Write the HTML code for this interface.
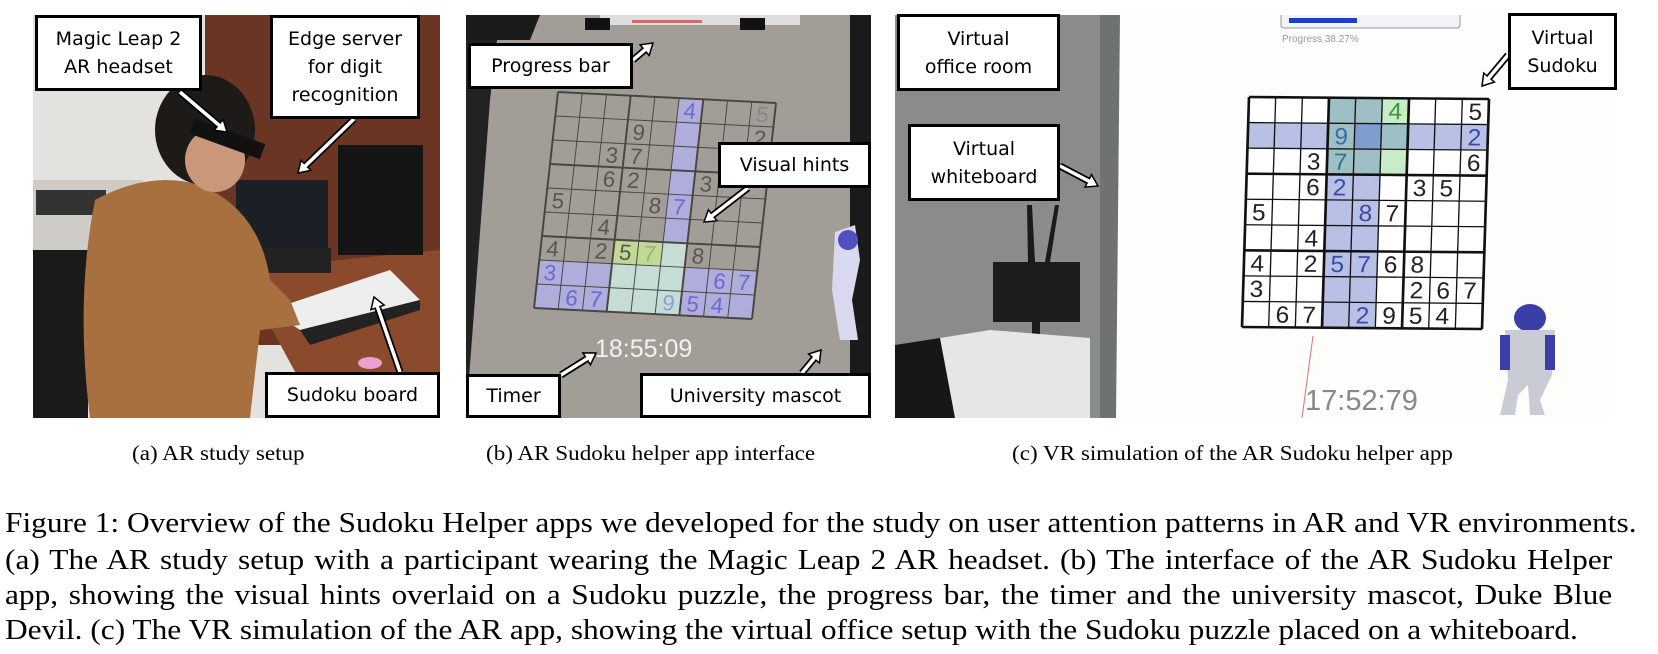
<!DOCTYPE html>
<html><head><meta charset="utf-8"><style>
html,body{margin:0;padding:0;background:#fff;}
body{width:1658px;height:654px;position:relative;overflow:hidden;font-family:"Liberation Serif",serif;}
.lbl{position:absolute;background:#fff;border:3px solid #000;box-sizing:border-box;font-family:"DejaVu Sans","Liberation Sans",sans-serif;font-size:19px;line-height:28px;text-align:center;display:flex;align-items:center;justify-content:center;color:#000;}
.cap{position:absolute;font-size:21px;white-space:nowrap;top:441px;transform:scaleX(1.1);transform-origin:0 0;}
.fl{position:absolute;left:5px;width:1435px;font-size:28px;text-align:justify;text-align-last:justify;white-space:nowrap;line-height:30px;transform:scaleX(1.12);transform-origin:0 0;}
</style></head><body>
<svg id="s" width="1658" height="654" style="position:absolute;left:0;top:0">
<defs>
<clipPath id="ca"><rect x="33" y="15" width="407" height="403"/></clipPath>
<clipPath id="cb"><rect x="466" y="15" width="405" height="403"/></clipPath>
<clipPath id="cc"><rect x="895" y="15" width="717" height="403"/></clipPath>
</defs>
<g clip-path="url(#ca)">
<rect x="33" y="15" width="407" height="403" fill="#e4e2de"/>
<rect x="205" y="15" width="235" height="330" fill="#6a3623"/>
<polygon points="240,270 440,250 440,418 320,418" fill="#8b4a2b"/>
<rect x="33" y="180" width="110" height="100" fill="#cfccc8"/>
<rect x="36" y="190" width="70" height="25" fill="#333"/>
<rect x="338" y="145" width="85" height="110" fill="#151515"/>
<rect x="236" y="180" width="92" height="78" fill="#1d1f26"/>
<rect x="226" y="248" width="105" height="25" fill="#222"/>
<polygon points="270,310 390,270 420,300 300,330" fill="#eee"/>
<polygon points="300,330 420,300 420,310 310,345" fill="#222"/>
<rect x="33" y="250" width="55" height="168" fill="#1a1a1a"/>
<path d="M95,200 Q150,170 200,185 Q260,210 270,280 L290,300 L300,325 L260,330 L250,418 L90,418 Q75,300 95,200Z" fill="#a8703f"/>
<ellipse cx="205" cy="130" rx="50" ry="55" fill="#1e1a18"/>
<ellipse cx="215" cy="160" rx="30" ry="32" fill="#c9987a"/>
<rect x="190" y="130" width="75" height="16" fill="#111" transform="rotate(20 225 138)"/>
<ellipse cx="370" cy="363" rx="12" ry="6" fill="#e8a0d0"/>
</g>
<g clip-path="url(#cb)">
<rect x="466" y="15" width="405" height="403" fill="#a29d97"/>
<polygon points="466,15 500,15 490,100 466,418" fill="#222"/>
<polygon points="466,15 540,15 530,40 466,40" fill="#1a1a1a"/>
<rect x="850" y="15" width="21" height="403" fill="#1a1a1a"/>
<rect x="600" y="15" width="200" height="10" fill="#ddd"/>
<rect x="632" y="20" width="70" height="3" fill="#d66"/>
<rect x="585" y="18" width="25" height="12" fill="#111"/>
<rect x="740" y="18" width="25" height="12" fill="#111"/>
<g id="gb"></g>
<text x="595" y="357" font-family="Liberation Sans,sans-serif" font-size="25" fill="#f4f2f0">18:55:09</text>
<path d="M835,232 L855,225 L860,260 L852,300 L858,340 L840,340 L832,290Z" fill="#d8d8ee"/>
<ellipse cx="848" cy="240" rx="10" ry="10" fill="#5050c0"/>
</g>
<g clip-path="url(#cc)">
<rect x="895" y="15" width="717" height="403" fill="#fdfdfc"/>
<rect x="895" y="15" width="210" height="403" fill="#8a8c89"/>
<polygon points="1100,15 1120,15 1116,418 1100,418" fill="#6f7370"/>
<polygon points="1027,205 1032,205 1035,262 1028,262" fill="#1a1a1a"/>
<polygon points="1055,205 1059,205 1050,262 1045,262" fill="#1a1a1a"/>
<rect x="993" y="262" width="87" height="60" fill="#1c1c1c"/>
<rect x="1032" y="320" width="8" height="30" fill="#1c1c1c"/>
<polygon points="940,338 990,330 1090,338 1090,418 940,418" fill="#e6e7e5"/>
<polygon points="895,345 940,338 955,418 895,418" fill="#161616"/>
<rect x="1281" y="13" width="179" height="15" rx="3" fill="#f2f4f8" stroke="#999"/>
<rect x="1289" y="18" width="68" height="5" fill="#1a3ed0"/>
<text x="1282" y="42" font-family="Liberation Sans,sans-serif" font-size="10" fill="#999">Progress 38.27%</text>
<g id="gc"></g>
<line x1="1313" y1="336" x2="1302" y2="418" stroke="#e07070" stroke-width="1"/>
<text x="1305" y="410" font-family="Liberation Sans,sans-serif" font-size="29" fill="#888">17:52:79</text>
<ellipse cx="1530" cy="318" rx="16" ry="14" fill="#3a3fa8"/>
<path d="M1505,330 L1555,330 L1552,375 L1540,400 L1545,415 L1530,415 L1528,385 L1518,395 L1515,415 L1500,415 L1508,380Z" fill="#c9ccd4"/>
<rect x="1500" y="335" width="10" height="35" fill="#3a3fa8"/>
<rect x="1545" y="335" width="10" height="35" fill="#3a3fa8"/>
</g>
<g id="arr"></g>
</svg>

<div class="lbl" style="left:35px;top:15px;width:167px;height:76px;">Magic Leap 2<br>AR headset</div>
<div class="lbl" style="left:270px;top:15px;width:150px;height:104px;">Edge server<br>for digit<br>recognition</div>
<div class="lbl" style="left:265px;top:372px;width:175px;height:46px;">Sudoku board</div>
<div class="lbl" style="left:468px;top:43px;width:165px;height:46px;">Progress bar</div>
<div class="lbl" style="left:718px;top:142px;width:153px;height:46px;">Visual hints</div>
<div class="lbl" style="left:466px;top:374px;width:95px;height:44px;">Timer</div>
<div class="lbl" style="left:640px;top:373px;width:231px;height:45px;">University mascot</div>
<div class="lbl" style="left:897px;top:14px;width:163px;height:77px;">Virtual<br>office room</div>
<div class="lbl" style="left:908px;top:124px;width:152px;height:77px;">Virtual<br>whiteboard</div>
<div class="lbl" style="left:1508px;top:13px;width:109px;height:77px;">Virtual<br>Sudoku</div>

<div class="cap" style="left:132px;">(a) AR study setup</div>
<div class="cap" style="left:486px;">(b) AR Sudoku helper app interface</div>
<div class="cap" style="left:1012px;">(c) VR simulation of the AR Sudoku helper app</div>

<div class="fl" style="top:509px;">Figure 1: Overview of the Sudoku Helper apps we developed for the study on user attention patterns in AR and VR environments.</div>
<div class="fl" style="top:546px;">(a) The AR study setup with a participant wearing the Magic Leap 2 AR headset. (b) The interface of the AR Sudoku Helper</div>
<div class="fl" style="top:581px;">app, showing the visual hints overlaid on a Sudoku puzzle, the progress bar, the timer and the university mascot, Duke Blue</div>
<div class="fl" style="top:616px;width:auto;text-align:left;text-align-last:left;">Devil. (c) The VR simulation of the AR app, showing the virtual office setup with the Sudoku puzzle placed on a whiteboard.</div>

<script>
var NS="http://www.w3.org/2000/svg";
function el(p,t,a,txt){var e=document.createElementNS(NS,t);for(var k in a)e.setAttribute(k,a[k]);if(txt)e.textContent=txt;p.appendChild(e);return e;}
function grid(id,o,xv,yv,fills,nums,lc,nc,bg,thin,thick){
 var g=document.getElementById(id);
 g.setAttribute("transform","matrix("+xv[0]/9+","+xv[1]/9+","+yv[0]/9+","+yv[1]/9+","+o[0]+","+o[1]+")");
 if(bg)el(g,"rect",{x:0,y:0,width:9,height:9,fill:bg});
 fills.forEach(function(f){el(g,"rect",{x:f[1],y:f[0],width:f[3]||1,height:f[2]||1,fill:f[4],"fill-opacity":f[5]||1});});
 for(var i=0;i<=9;i++){var w=(i%3==0)?thick:thin;
  el(g,"line",{x1:i,y1:0,x2:i,y2:9,stroke:lc,"stroke-width":w});
  el(g,"line",{x1:0,y1:i,x2:9,y2:i,stroke:lc,"stroke-width":w});}
 nums.forEach(function(n){el(g,"text",{x:n[1]+0.5,y:n[0]+0.82,"text-anchor":"middle","font-size":0.92,"font-family":"Liberation Sans,sans-serif",fill:n[3]||nc},String(n[2]));});
}
var B="#b9c0e6",T="#9ebfc6",G="#c8ecc6";
grid("gc",[1249,97],[240,2],[-7,230],[
 [1,0,1,9,B],[0,3,9,2,B],[0,3,3,3,T],[1,4,1,1,"#7f9ed0"],[0,5,1,1,G],[2,5,1,1,G]
],[[0,5,4,"#3a9a3a"],[0,8,5],[1,3,9,"#3a6aa8"],[1,8,2,"#3a4aa8"],[2,2,3],[2,3,7,"#2a7a7a"],[2,8,6],
 [3,2,6],[3,3,2,"#3a4aa8"],[3,6,3],[3,7,5],[4,0,5],[4,4,8,"#3a4aa8"],[4,5,7],[5,2,4],
 [6,0,4],[6,2,2],[6,3,5,"#3a4aa8"],[6,4,7,"#3a4aa8"],[6,5,6],[6,6,8],[7,0,3],[7,6,2],[7,7,6],[7,8,7],
 [8,1,6],[8,2,7],[8,4,2,"#3a4aa8"],[8,5,9],[8,6,5],[8,7,4]],"#111","#222","#fff",0.05,0.1);
var PB="#b2b0e6";
grid("gb",[558,92],[218,11],[-24,216],[
 [0,5,6,1,PB,0.85],[7,0,2,3,PB,0.85],[7,6,2,3,PB,0.85],[6,3,3,3,"#cfeee6",0.8],[6,3,1,2,"#c0d890",0.9]
],[[0,5,4,"#6a6ad0"],[0,8,5,"#888"],[1,3,9],[1,8,2],[2,2,3],[2,3,7],[3,2,6],[3,3,2],[3,6,3],
 [4,0,5],[4,4,8],[4,5,7,"#6a6ad0"],[5,2,4],[6,0,4],[6,2,2],[6,3,5],[6,4,7,"#a0b070"],[6,6,8],
 [7,0,3,"#6a6ad0"],[7,7,6,"#6a6ad0"],[7,8,7,"#6a6ad0"],[8,1,6,"#6a6ad0"],[8,2,7,"#6a6ad0"],[8,5,9,"#8aa0d8"],[8,6,5,"#6a6ad0"],[8,7,4,"#6a6ad0"]],
 "#4a4540","#5a554f",null,0.04,0.08);
var A=document.getElementById("arr");
function arrow(x1,y1,x2,y2){
 var dx=x2-x1,dy=y2-y1,L=Math.sqrt(dx*dx+dy*dy),ux=dx/L,uy=dy/L,px=-uy,py=ux,h=11,w=7;
 var bx=x2-ux*h,by=y2-uy*h;
 el(A,"line",{x1:x1,y1:y1,x2:bx,y2:by,stroke:"#000","stroke-width":7});
 el(A,"polygon",{points:x2+","+y2+" "+(bx+px*w)+","+(by+py*w)+" "+(bx-px*w)+","+(by-py*w),fill:"#fff",stroke:"#000","stroke-width":1.5});
 el(A,"line",{x1:x1,y1:y1,x2:bx+ux*1,y2:by+uy*1,stroke:"#fff","stroke-width":3.5});
}
arrow(180,92,227,132);arrow(354,119,298,173);arrow(400,372,374,297);
arrow(633,60,653,43);arrow(748,188,704,222);arrow(561,375,596,353);arrow(802,373,821,350);
arrow(1060,166,1098,186);arrow(1508,55,1482,86);
</script>
</body></html>
